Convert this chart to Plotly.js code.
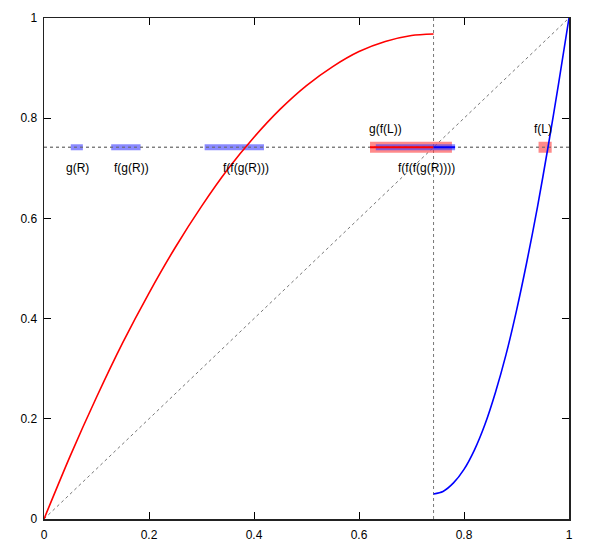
<!DOCTYPE html>
<html>
<head>
<meta charset="utf-8">
<script src="https://cdn.plot.ly/plotly-3.0.1.min.js"></script>
<style>
  body { margin: 0; background: #fff; }
  #chart { width: 589px; height: 550px; }
</style>
</head>
<body>
<div id="chart"></div>
<script>
// level where the iteration is shown
var L = 0.742;

// f : red branch on [0, L]
var fX = [0, 0.05, 0.1, 0.15, 0.2, 0.25, 0.3, 0.35, 0.4, 0.45, 0.5, 0.55, 0.6, 0.65, 0.7, 0.742];
var fY = [0, 0.126, 0.243, 0.352, 0.451, 0.542, 0.624, 0.698, 0.762, 0.818, 0.865, 0.903, 0.933, 0.953, 0.965, 0.968];

// g : blue branch on [L, 1]
var gX = [0.742, 0.76, 0.78, 0.8, 0.82, 0.84, 0.86, 0.88, 0.9, 0.92, 0.94, 0.96, 0.98, 1];
var gY = [0.05, 0.055, 0.072, 0.099, 0.138, 0.189, 0.253, 0.328, 0.416, 0.515, 0.623, 0.742, 0.868, 1];

// intervals drawn on the level line
var blueStart = [0.051, 0.128, 0.306, 0.632];
var blueEnd   = [0.074, 0.184, 0.419, 0.783];
var redStart  = [0.621, 0.942];
var redEnd    = [0.777, 0.967];

// thin segments inside the big band
var redSeg  = [0.621, 0.742];
var blueSeg = [0.742, 0.783];

// labels
var labelText = ['g(R)', 'f(g(R))', 'f(f(g(R)))', 'g(f(L))', 'f(f(f(g(R))))', 'f(L)'];
var labelX    = [0.064, 0.166, 0.384, 0.650, 0.729, 0.951];
var labelY    = [0.700, 0.700, 0.700, 0.778, 0.700, 0.778];

var gray = '#777';
var data = [];

// guide lines
data.push({x: [0, 1], y: [0, 1], mode: 'lines', line: {color: gray, width: 1, dash: 'dot'}});
data.push({x: [0, 1], y: [L, L], mode: 'lines', line: {color: gray, width: 1, dash: 'dot'}});
data.push({x: [L, L], y: [0, 1], mode: 'lines', line: {color: gray, width: 1, dash: '3px,3px'}});

// red bands (under)
for (var i = 0; i < redStart.length; i++) {
  data.push({x: [redStart[i], redEnd[i]], y: [L, L], mode: 'lines',
    line: {color: 'rgba(255,60,60,0.6)', width: 11}});
}
// blue bands
for (var j = 0; j < blueStart.length; j++) {
  data.push({x: [blueStart[j], blueEnd[j]], y: [L, L], mode: 'lines',
    line: {color: 'rgba(60,60,255,0.6)', width: 6}});
}
// redraw level line through the bands
data.push({x: [0, 1], y: [L, L], mode: 'lines', line: {color: gray, width: 1, dash: 'dot'}});

data.push({x: redSeg, y: [L, L], mode: 'lines', line: {color: '#ff0000', width: 2}});
data.push({x: blueSeg, y: [L, L], mode: 'lines', line: {color: '#0000ff', width: 2}});

// curves
data.push({x: fX, y: fY, mode: 'lines', line: {color: '#ff0000', width: 1.6, shape: 'spline', smoothing: 0.8}});
data.push({x: gX, y: gY, mode: 'lines', line: {color: '#0000ff', width: 1.6, shape: 'spline', smoothing: 0.8}});

var anot = [];
for (var k = 0; k < labelText.length; k++) {
  anot.push({x: labelX[k], y: labelY[k], text: labelText[k], showarrow: false,
    font: {size: 12, color: '#000'}});
}

var axis = {
  range: [0, 1],
  tickvals: [0, 0.2, 0.4, 0.6, 0.8, 1],
  ticktext: ['0', '0.2', '0.4', '0.6', '0.8', '1'],
  ticks: 'inside',
  ticklen: 7,
  tickwidth: 1,
  tickcolor: '#000',
  showline: true,
  linecolor: '#222',
  linewidth: 1.5,
  mirror: 'ticks',
  showgrid: false,
  zeroline: false,
  tickfont: {size: 12, color: '#000'}
};

var layout = {
  width: 589,
  height: 550,
  margin: {l: 44, r: 20, t: 18, b: 31},
  showlegend: false,
  paper_bgcolor: '#fff',
  plot_bgcolor: '#fff',
  font: {family: 'Liberation Sans, Arial, sans-serif', size: 12, color: '#000'},
  xaxis: Object.assign({}, axis, {ticklabelstandoff: 4}),
  yaxis: Object.assign({}, axis, {ticklabelstandoff: 3}),
  annotations: anot
};

Plotly.newPlot('chart', data, layout, {displayModeBar: false, staticPlot: true});
</script>
</body>
</html>
